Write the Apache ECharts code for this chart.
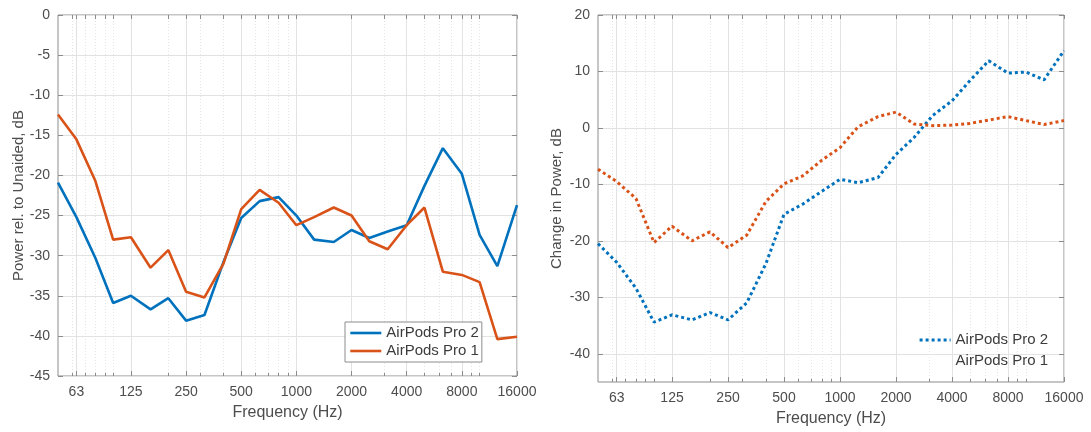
<!DOCTYPE html>
<html>
<head>
<meta charset="utf-8">
<script src="https://cdn.jsdelivr.net/npm/echarts@6/dist/echarts.min.js"></script>
<style>
html, body { margin: 0; padding: 0; background: #fff; }
#main { width: 1091px; height: 432px; }
</style>
</head>
<body>
<div id="main"></div>
<script>
// 1/3-octave band centres (Hz)
var freqs = [50, 63, 80, 100, 125, 160, 200, 250, 315, 400, 500, 630, 800,
	1000, 1250, 1600, 2000, 2500, 3150, 4000, 5000, 6300, 8000, 10000, 12500, 16000];

var tickFreqs = [63, 125, 250, 500, 1000, 2000, 4000, 8000, 16000];
var tickLabels = ['63', '125', '250', '500', '1000', '2000', '4000', '8000', '16000'];
var minorFreqs = [60, 70, 80, 90, 100, 200, 300, 400, 600, 700, 800, 900, 1000,
	2000, 3000, 4000, 5000, 6000, 7000, 8000, 9000, 10000];

var names = ['AirPods Pro 2', 'AirPods Pro 1'];

// left panel: power relative to unaided, dB
var relPro2 = [-20.9, -25.2, -30.3, -35.9, -35.0, -36.7, -35.3, -38.1, -37.4, -30.8, -25.3, -23.2, -22.7,
	-25.0, -28.0, -28.3, -26.8, -27.8, -27.0, -26.2, -21.3, -16.6, -19.8, -27.4, -31.3, -23.7];
var relPro1 = [-12.4, -15.5, -20.7, -28.0, -27.7, -31.5, -29.3, -34.5, -35.2, -31.0, -24.2, -21.8, -23.4,
	-26.2, -25.2, -24.0, -25.0, -28.2, -29.2, -26.2, -24.0, -32.0, -32.4, -33.3, -40.4, -40.1];

// right panel: change in power, dB
var chgPro2 = [-20.5, -23.8, -28.4, -34.4, -33.1, -34.0, -32.7, -34.0, -31.0, -24.0, -15.3, -13.5, -11.2,
	-9.1, -9.7, -8.8, -4.7, -1.7, 2.2, 4.8, 8.4, 11.9, 9.7, 9.9, 8.5, 13.7];
var chgPro1 = [-7.3, -9.5, -12.5, -20.3, -17.4, -20.0, -18.4, -21.2, -19.0, -13.0, -9.9, -8.5, -5.7,
	-3.5, 0.2, 2.0, 2.8, 0.7, 0.4, 0.5, 0.8, 1.4, 2.0, 1.3, 0.6, 1.3];

var leftTicksY = [-45, -40, -35, -30, -25, -20, -15, -10, -5, 0];
var rightTicksY = [-40, -30, -20, -10, 0, 10, 20];

var colors = ['#0072BD', '#D95319'];
var textColor = '#4d4d4d';
var font = 'Liberation Sans, Arial, Helvetica, sans-serif';
var dots = [3, 3];

function lg(f) { return Math.log(f) / Math.LN2; }

var xMin = lg(50), xMax = lg(16000);
var majorX = tickFreqs.map(lg);
var minorX = minorFreqs.map(lg);

function pairs(vals) {
	return freqs.map(function (f, i) { return [lg(f), vals[i]]; });
}

function freqLabel(v) {
	for (var i = 0; i < majorX.length; i++) {
		if (Math.abs(majorX[i] - v) < 1e-6) return tickLabels[i];
	}
	return '';
}

function xAxes(gi) {
	return [
		{
			gridIndex: gi, type: 'value', min: xMin, max: xMax, position: 'bottom',
			name: 'Frequency (Hz)', nameLocation: 'middle', nameGap: 29,
			nameTextStyle: { color: textColor, fontSize: 16, fontFamily: font },
			axisLine: { show: false, onZero: false },
			axisTick: { inside: true, length: 5, customValues: majorX, lineStyle: { color: '#8c8c8c' } },
			axisLabel: { customValues: majorX, formatter: freqLabel, margin: 9, color: textColor, fontSize: 14, fontFamily: font },
			splitLine: { show: true, lineStyle: { color: '#e2e2e2', width: 1 } }
		},
		{
			gridIndex: gi, type: 'value', min: xMin, max: xMax, position: 'bottom',
			axisLine: { show: false, onZero: false },
			axisTick: { inside: true, length: 3, customValues: minorX, lineStyle: { color: '#8c8c8c' } },
			axisLabel: { show: false },
			splitLine: { show: true, lineStyle: { color: '#e4e4e4', width: 1, type: [1, 2] } }
		},
		{
			gridIndex: gi, type: 'value', min: xMin, max: xMax, position: 'top',
			axisLine: { show: false, onZero: false },
			axisTick: { inside: true, length: 4, customValues: majorX.concat(minorX), lineStyle: { color: '#8c8c8c' } },
			axisLabel: { show: false },
			splitLine: { show: false }
		}
	];
}

function yAxes(gi, min, max, ticks, title, gap) {
	return [
		{
			gridIndex: gi, type: 'value', min: min, max: max, position: 'left',
			name: title, nameLocation: 'middle', nameGap: gap,
			nameTextStyle: { color: textColor, fontSize: 15, fontFamily: font },
			axisLine: { show: false, onZero: false },
			axisTick: { show: true, inside: true, length: 5, customValues: ticks, lineStyle: { color: '#8c8c8c' } },
			axisLabel: { customValues: ticks, margin: 8, color: textColor, fontSize: 14, fontFamily: font },
			splitLine: { show: true, lineStyle: { color: '#e2e2e2', width: 1 } }
		},
		{
			gridIndex: gi, type: 'value', min: min, max: max, position: 'right',
			axisLine: { show: false, onZero: false },
			axisTick: { show: true, inside: true, length: 5, customValues: ticks, lineStyle: { color: '#8c8c8c' } },
			axisLabel: { show: false },
			splitLine: { show: false }
		}
	];
}

function line(name, vals, gi, color, dotted) {
	return {
		name: name, type: 'line',
		xAxisIndex: gi * 3, yAxisIndex: gi * 2,
		data: pairs(vals),
		symbol: 'none', silent: true, animation: false,
		lineStyle: dotted
			? { color: color, width: 3, type: dots, cap: 'butt' }
			: { color: color, width: 2.6 },
		itemStyle: { color: color }
	};
}

var chart = echarts.init(document.getElementById('main'));

chart.setOption({
	backgroundColor: '#fff',
	animation: false,
	grid: [
		{ left: 58, top: 15, width: 459, height: 361, show: true, borderColor: '#8c8c8c', borderWidth: 1, backgroundColor: '#fff' },
		{ left: 598, top: 15, width: 466, height: 368, show: true, borderColor: '#8c8c8c', borderWidth: 1, backgroundColor: '#fff' }
	],
	legend: [
		{
			left: 345, top: 322, orient: 'vertical',
			padding: [3, 3, 3, 4], itemGap: 2, itemWidth: 31, itemHeight: 14,
			backgroundColor: '#fff', borderColor: '#8c8c8c', borderWidth: 1, borderRadius: 0,
			itemStyle: { opacity: 0 },
			lineStyle: { width: 2.6 },
			textStyle: { color: '#3c3c3c', fontSize: 15, fontFamily: font, lineHeight: 16 },
			data: names.map(function (n) { return { name: n }; }),
			selectedMode: false
		},
		{
			left: 918, top: 332, orient: 'vertical',
			padding: 0, itemGap: 5, itemWidth: 31, itemHeight: 14,
			itemStyle: { opacity: 0 },
			lineStyle: { width: 3.2, type: dots, cap: 'butt' },
			textStyle: { color: '#3c3c3c', fontSize: 15, fontFamily: font, lineHeight: 16 },
			data: [
				{ name: names[0] },
				{ name: names[1], lineStyle: { opacity: 0 } }
			],
			selectedMode: false
		}
	],
	xAxis: xAxes(0).concat(xAxes(1)),
	yAxis: yAxes(0, -45, 0, leftTicksY, 'Power rel. to Unaided, dB', 32)
		.concat(yAxes(1, -45, 20, rightTicksY, 'Change in Power, dB', 34)),
	series: [
		line(names[0], relPro2, 0, colors[0], false),
		line(names[1], relPro1, 0, colors[1], false),
		line(names[0], chgPro2, 1, colors[0], true),
		line(names[1], chgPro1, 1, colors[1], true)
	]
});
</script>
</body>
</html>
